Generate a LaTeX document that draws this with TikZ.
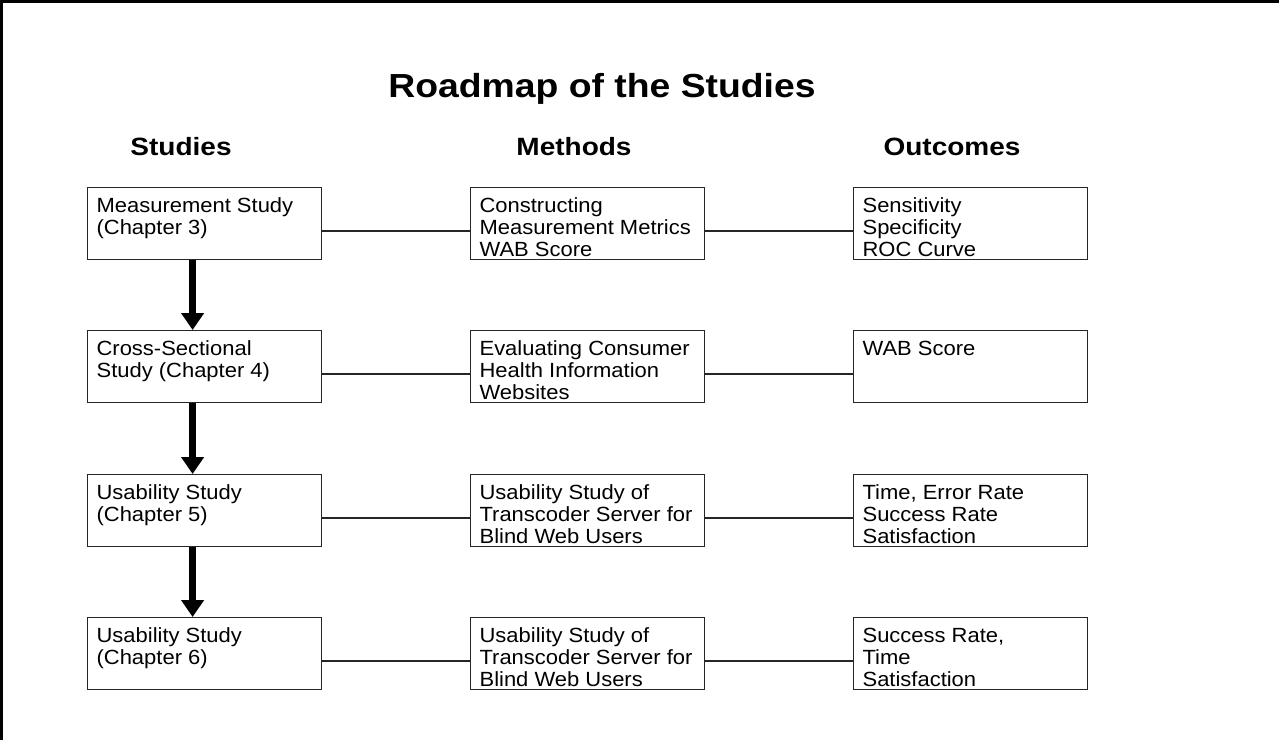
\documentclass[tikz,border=0pt]{standalone}
\usepackage{fontspec}
\setmainfont{Liberation Sans}
\newfontfamily\bodyfont[FakeStretch=1.07]{Liberation Sans}
\newfontfamily\headfont[FakeStretch=1.12]{Liberation Sans}
\usetikzlibrary{arrows.meta}

% text block inside each box: fixed height, top aligned
\newcommand\boxtext[1]{\parbox[t][54pt][t]{162pt}{\raggedright\rule{0pt}{18.5pt}#1}}

\tikzset{
  stagebox/.style={draw=black!85, line width=0.9pt, inner xsep=6.75pt, inner ysep=0pt,
    anchor=north west, font=\bodyfont\fontsize{15.4pt}{16.5pt}\selectfont},
  link/.style={draw=black!85, line width=0.9pt},
  flow/.style={line width=5.25pt, -{Triangle[width=16.5pt,length=12.75pt]}},
  colhead/.style={anchor=base, font=\headfont\bfseries\fontsize{18.75pt}{20pt}\selectfont},
  maintitle/.style={anchor=base, font=\headfont\bfseries\fontsize{25pt}{28pt}\selectfont},
}

\begin{document}
\begin{tikzpicture}[x=0.75pt,y=-0.75pt]
\useasboundingbox (0,0) rectangle (1279,740);

% frame along the left and top edges
\draw[line width=2.25pt] (1.5,740) -- (1.5,1.5) -- (1279,1.5);

% title and column headings
\node[maintitle] (title) at (602,97) {Roadmap of the Studies};
\node[colhead] (hstudies) at (181,155) {Studies};
\node[colhead] (hmethods) at (574,155) {Methods};
\node[colhead] (houtcomes) at (952,155) {Outcomes};

% studies column
\node[stagebox] (s1) at (87,187) {\boxtext{Measurement Study\\(Chapter 3)}};
\node[stagebox] (s2) at (87,330) {\boxtext{Cross-Sectional\\Study (Chapter 4)}};
\node[stagebox] (s3) at (87,474) {\boxtext{Usability Study\\(Chapter 5)}};
\node[stagebox] (s4) at (87,617) {\boxtext{Usability Study\\(Chapter 6)}};

% methods column
\node[stagebox] (m1) at (470,187) {\boxtext{Constructing\\Measurement Metrics\\WAB Score}};
\node[stagebox] (m2) at (470,330) {\boxtext{Evaluating Consumer\\Health Information\\Websites}};
\node[stagebox] (m3) at (470,474) {\boxtext{Usability Study of\\Transcoder Server for\\Blind Web Users}};
\node[stagebox] (m4) at (470,617) {\boxtext{Usability Study of\\Transcoder Server for\\Blind Web Users}};

% outcomes column
\node[stagebox] (o1) at (853,187) {\boxtext{Sensitivity\\Specificity\\ROC Curve}};
\node[stagebox] (o2) at (853,330) {\boxtext{WAB Score}};
\node[stagebox] (o3) at (853,474) {\boxtext{Time, Error Rate\\Success Rate\\Satisfaction}};
\node[stagebox] (o4) at (853,617) {\boxtext{Success Rate,\\Time\\Satisfaction}};

% row links
\foreach \r in {1,2,3,4}{
  \draw[link] ([yshift=-5.6pt]s\r.east) -- ([yshift=-5.6pt]m\r.west);
  \draw[link] ([yshift=-5.6pt]m\r.east) -- ([yshift=-5.6pt]o\r.west);
}

% progression between studies
\draw[flow] ([xshift=-9pt]s1.south) -- ([xshift=-9pt]s2.north);
\draw[flow] ([xshift=-9pt]s2.south) -- ([xshift=-9pt]s3.north);
\draw[flow] ([xshift=-9pt]s3.south) -- ([xshift=-9pt]s4.north);
\end{tikzpicture}
\end{document}
